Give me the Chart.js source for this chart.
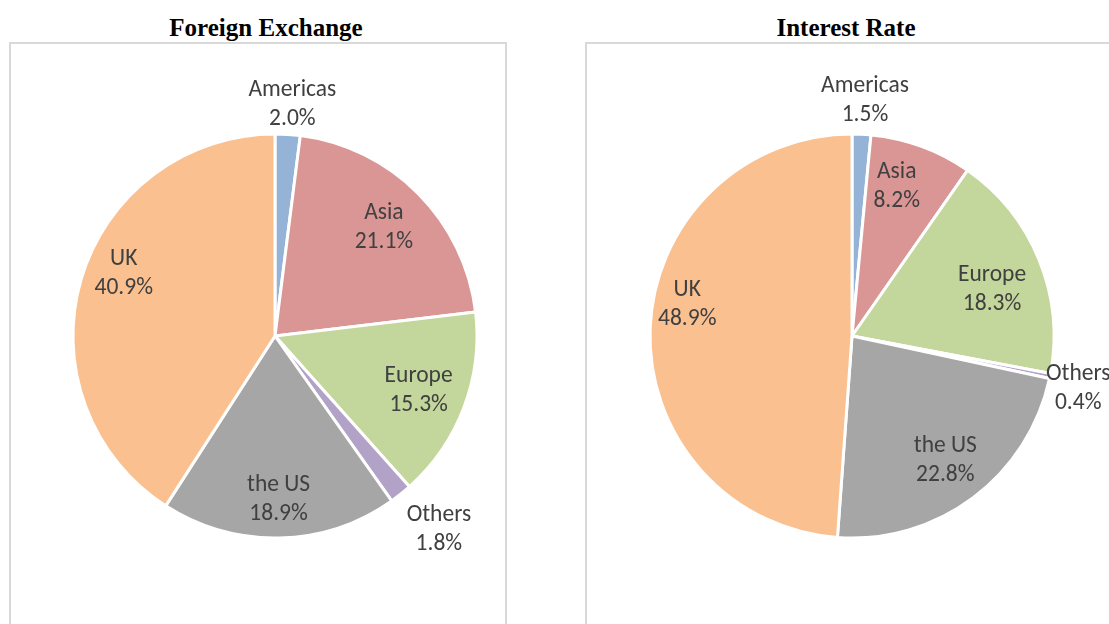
<!DOCTYPE html>
<html>
<head>
<meta charset="utf-8">
<script src="https://cdn.jsdelivr.net/npm/chart.js@4/dist/chart.umd.min.js"></script>
<style>
  html, body { margin: 0; padding: 0; background: #fff; overflow: hidden; }
  body { width: 1109px; height: 624px; position: relative; }
  .box { position: absolute; top: 42px; height: 600px; border: 2px solid #d9d9d9; box-sizing: border-box; }
  .title { position: absolute; top: 13px; font-family: "Liberation Serif", "Times New Roman", serif; font-weight: bold; font-size: 25px; color: #000; text-align: center; width: 400px; line-height: 30px; }
  canvas { position: absolute; top: 0; }
</style>
</head>
<body>
<div class="box" style="left:9px; width:498px;"></div>
<div class="box" style="left:585px; width:560px;"></div>
<div class="title" style="left:66px;">Foreign Exchange</div>
<div class="title" style="left:646px;">Interest Rate</div>
<div style="position:absolute;left:0;top:0;width:560px;height:624px;"><canvas id="fx"></canvas></div>
<div style="position:absolute;left:577px;top:0;width:560px;height:624px;"><canvas id="ir"></canvas></div>
<script>
const categories = ["Americas", "Asia", "Europe", "Others", "the US", "UK"];
const fxValues = [2.0, 21.1, 15.3, 1.8, 18.9, 40.9];
const irValues = [1.5, 8.2, 18.3, 0.4, 22.8, 48.9];
const sliceColors = ["#95B3D7", "#D99694", "#C3D69B", "#B3A2C7", "#A6A6A6", "#FAC090"];

const labelPlugin = {
  id: 'sliceLabels',
  afterDatasetsDraw(chart, args, opts) {
    const ctx = chart.ctx;
    const meta = chart.getDatasetMeta(0);
    const data = chart.data.datasets[0].data;
    ctx.save();
    ctx.font = '23.5px Carlito, Calibri, Lato, sans-serif';
    ctx.fillStyle = '#404040';
    ctx.textAlign = 'center';
    ctx.textBaseline = 'middle';
    meta.data.forEach((arc, i) => {
      const p = arc.getProps(['x', 'y', 'startAngle', 'endAngle', 'outerRadius'], true);
      const mid = (p.startAngle + p.endAngle) / 2 + (opts.angleShift ? opts.angleShift[i] : 0);
      const r = p.outerRadius * opts.radius[i];
      const cx = p.x + Math.cos(mid) * r;
      const cy = p.y + Math.sin(mid) * r;
      ctx.fillText(chart.data.labels[i], cx, cy - 14.5);
      ctx.fillText(data[i].toFixed(1) + '%', cx, cy + 14.5);
    });
    ctx.restore();
  }
};

function makePie(id, values, radii, shifts) {
  new Chart(document.getElementById(id), {
    type: 'pie',
    data: {
      labels: categories,
      datasets: [{
        data: values,
        backgroundColor: sliceColors,
        borderColor: '#ffffff',
        borderWidth: 3
      }]
    },
    options: {
      responsive: true,
      maintainAspectRatio: false,
      animation: false,
      layout: { padding: { left: 71.5, top: 132.5, right: 81.5, bottom: 84.5 } },
      plugins: {
        legend: { display: false },
        tooltip: { enabled: false },
        sliceLabels: { radius: radii, angleShift: shifts }
      }
    },
    plugins: [labelPlugin]
  });
}

makePie('fx', fxValues, [1.15, 0.76, 0.76, 1.256, 0.81, 0.81], [0.012, 0, 0, -0.03, 0, 0.105]);
makePie('ir', irValues, [1.168, 0.77, 0.73, 1.15, 0.77, 0.83], [0.008, -0.06, 0.07, 0.03, 0, 0.15]);
</script>
</body>
</html>
